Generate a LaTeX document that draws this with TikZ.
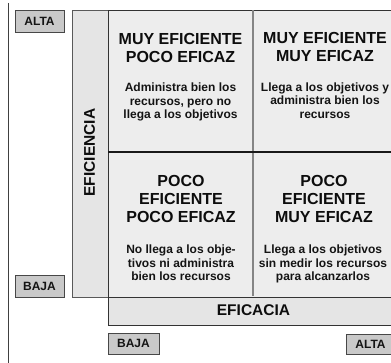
\documentclass[tikz,border=0pt]{standalone}
\usepackage{fontspec}
\setmainfont{Liberation Sans}
\begin{document}
\begin{tikzpicture}[x=1pt,y=-1pt,
  lbl/.style={draw=black!72, fill=black!21, line width=0.9pt, minimum width=49pt, minimum height=22pt, inner sep=0pt, font=\fontsize{12}{14}\selectfont\bfseries, text=black!92},
  ttl/.style={font=\fontsize{16}{18}\selectfont\bfseries, align=center, anchor=north, inner sep=0pt, text=black!95},
  bodytxt/.style={font=\fontsize{12}{13.4}\selectfont\bfseries, align=center, anchor=north, inner sep=0pt, text=black!92},
  axis/.style={font=\fontsize{15.5}{18}\selectfont\bfseries, inner sep=0pt, text=black!95}]
\useasboundingbox (0,0) rectangle (391,363);
\clip (0,0) rectangle (391,363);
\fill[white] (0,0) rectangle (391,363);
% left frame line
\draw[line width=0.9pt, draw=black!75] (8,3) -- (8,364);
% EFICIENCIA column
\draw[fill=black!10, draw=black!65, line width=0.8pt] (72,10) rectangle (108,297);
% matrix
\draw[fill=black!7, draw=black!80, line width=0.9pt] (108,10) rectangle (398,297);
% EFICACIA bar
\draw[fill=black!10, draw=black!80, line width=0.9pt] (108,297) rectangle (398,325);
% dividers
\draw[black!48, line width=2.2pt] (253,10.5) -- (253,296.5);
\draw[black!90, line width=1.1pt] (108,152) -- (398,152);
% axis titles
\node[axis, rotate=90] (efi) at (89.5,152.5) {EFICIENCIA};
\node[axis] (efa) at (253.5,310.5) {EFICACIA};
% scale labels
\node[lbl] (altaL) at (39.5,21) {ALTA};
\node[lbl] (bajaL) at (39.5,286) {BAJA};
\node[lbl, minimum width=51pt, minimum height=21pt] (bajaB) at (133.5,343.5) {BAJA};
\node[lbl, minimum height=20pt] (altaB) at (370.5,344) {ALTA};
% quadrants
\node[ttl] (t1) at (180.5,33) {MUY EFICIENTE\\POCO EFICAZ};
\node[bodytxt] (b1) at (180.5,83) {Administra bien los\\recursos, pero no\\llega a los objetivos};
\node[ttl] (t2) at (325,32.5) {MUY EFICIENTE\\MUY EFICAZ};
\node[bodytxt] (b2) at (325,82.5) {Llega a los objetivos y\\administra bien los\\recursos};
\node[ttl] (t3) at (181,175) {POCO\\EFICIENTE\\POCO EFICAZ};
\node[bodytxt] (b3) at (181,245) {No llega a los obje-\\tivos ni administra\\bien los recursos};
\node[ttl] (t4) at (324,175) {POCO\\EFICIENTE\\MUY EFICAZ};
\node[bodytxt] (b4) at (323,245) {Llega a los objetivos\\sin medir los recursos\\para alcanzarlos};
\end{tikzpicture}
\end{document}
